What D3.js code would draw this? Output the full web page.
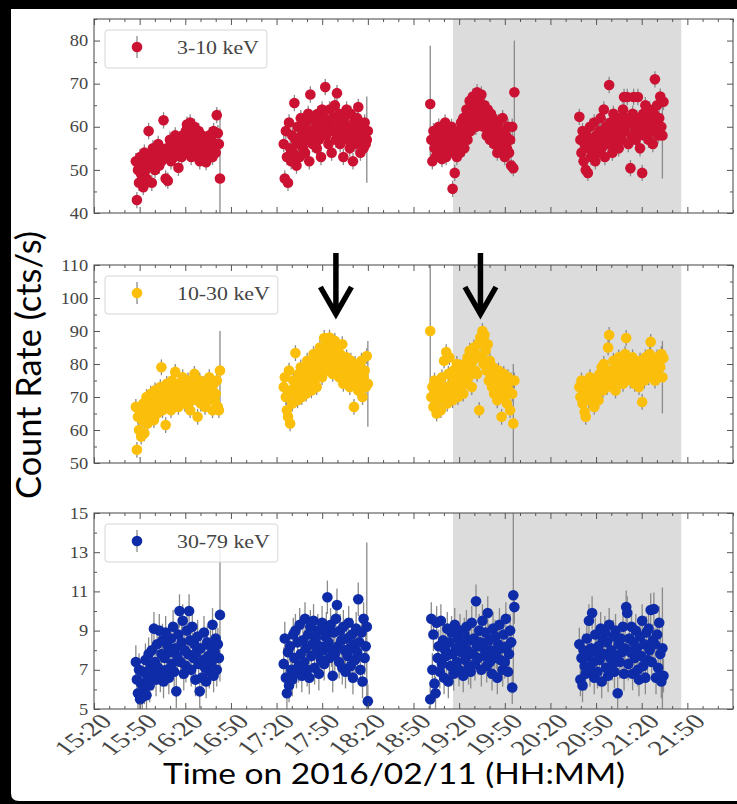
<!DOCTYPE html>
<html><head><meta charset="utf-8">
<script src="https://cdn.jsdelivr.net/npm/d3@7"></script>
<style>body{margin:0;background:#000}svg{display:block}</style>
</head><body>
<script>
// ---------- DATA ----------
const bands = ["3-10 keV", "10-30 keV", "30-79 keV"];
const bandColors = ["#cc1233", "#fbbf0b", "#0e2ca8"];
const yDomains = [[40, 85], [50, 110], [5, 15]];
const yMajorTicks = [[40, 50, 60, 70, 80], [50, 60, 70, 80, 90, 100, 110], [5, 7, 9, 11, 13, 15]];
const yMinorTicks = [[45, 55, 65, 75, 85], [55, 65, 75, 85, 95, 105], [6, 8, 10, 12, 14]];
const xDomain = ["15:20", "22:20"];
const xTickLabels = ["15:20", "15:50", "16:20", "16:50", "17:20", "17:50", "18:20", "18:50",
                     "19:20", "19:50", "20:20", "20:50", "21:20", "21:50"];
const shadeRange = ["19:16", "21:46"];
const arrowTimes = ["17:59", "19:34"];
const orbitStarts = ["15:47:30", "17:24:42", "19:01:00", "20:39:00"];
const binSeconds = 42;

const rate_3_10 = [
  [52, 43, 50, 47, 53, 49, 51, 46, 54, 50,
   48, 52, 59, 51, 53, 47, 55, 52, 50, 54,
   53, 56, 51, 55, 52, 54, 61.5, 53, 48, 55,
   47.5, 54, 57, 52, 56, 55, 53, 58, 54, 56,
   50.5, 57, 55, 53, 58, 56, 54, 59, 60.5, 55,
   57, 61, 53, 56, 58, 60, 55, 57, 54, 59,
   52, 56, 58, 53, 55, 57, 51.8, 56, 54, 58,
   55, 57, 53, 59, 56, 54, 62.7, 58.5, 56, 48],
  [56, 48, 59, 53, 47, 61, 55, 52, 58, 54,
   65.5, 57, 51, 60, 56, 53, 62, 58, 55, 59,
   54, 61, 57, 63, 52, 67.5, 59, 56, 62, 58,
   60, 55, 63, 57, 61, 53, 64, 59, 62, 69.2,
   58, 61, 56, 64, 60, 54, 62, 59, 65, 57,
   67.8, 60, 63, 56, 61, 58, 53, 62, 59, 64,
   57, 60, 55, 63, 58, 52, 61, 56, 59, 62,
   64.6, 57, 54, 60, 58, 55, 61, 56, 57, 59],
  [65.3, 57, 52, 59, 55, 53, 58, 56, 60, 54,
   57, 52.5, 59, 55, 61, 53, 57, 56, 54, 58,
   60, 45.6, 55, 49.3, 57, 53, 59, 56, 54, 61,
   58, 62, 55, 60, 64, 57, 61, 66, 59, 63,
   67, 62, 65, 60, 68, 64, 66, 61, 67.5, 63,
   60, 65, 62, 58, 64, 61, 57, 63, 59, 62,
   56, 60, 58, 54, 61, 57, 59, 55, 62, 57,
   53, 58, 55, 60, 54, 57, 51, 60, 50.4, 68],
  [62.3, 57, 54, 59, 52, 56, 50, 58, 49.3, 55,
   60, 53, 57, 55, 61, 52, 58, 56, 54, 59,
   62, 55, 57, 64, 53, 60, 58, 56, 69.7, 61,
   57, 54, 63, 59, 56, 61, 58, 55, 62, 60,
   57, 64, 66.9, 59, 62, 66.9, 56, 61, 50.4, 58,
   63, 66.9, 60, 57, 62, 66.9, 59, 55, 61, 49.3,
   63, 58, 65, 60, 62, 57, 64, 59, 61, 56,
   63, 71, 60, 65, 58, 62, 67, 60, 58, 65.8]
];
const rate_10_30 = [
  [67, 54, 64, 60, 66, 58, 63, 68, 59, 65,
   70, 62, 67, 64, 71, 66, 69, 63, 72, 68,
   65, 70, 67, 73, 79, 66, 71, 68, 61.5, 74,
   70, 68, 72, 66, 75, 70, 73, 77.6, 69, 72,
   67, 74, 71, 69, 76, 72, 68, 73, 70, 75,
   71, 66, 74, 69, 72, 77, 70, 73, 64, 71,
   75, 68, 72, 70, 74, 67, 71, 73, 69, 76,
   70, 72, 66, 74, 69, 71, 75, 67, 66, 78],
  [73, 76, 70, 66, 64, 78, 62, 72, 68, 75,
   71, 83.3, 74, 69, 77, 72, 79, 70, 75, 73,
   78, 71, 81, 76, 74, 80, 72, 77, 83, 75,
   79, 73, 82, 77, 85, 80, 76, 84, 87.9, 81,
   78, 86, 83, 88, 80, 85, 77, 82, 87, 79,
   84, 81, 76, 83, 79, 86, 74, 80, 77, 82,
   75, 79, 73, 81, 76, 78, 67, 80, 74, 77,
   72, 79, 75, 81, 70, 76, 78, 73, 82.4, 74],
  [90, 70, 73, 67, 75, 71, 65, 74, 69, 72,
   66, 76, 70, 81, 73, 83.6, 68, 77, 82, 71,
   74, 69, 78, 72, 76, 80, 70, 75, 79, 73,
   77, 71, 80, 74, 78, 82, 76, 84, 79, 73,
   81, 85, 78, 83, 77, 86, 66, 88, 82, 90,
   80, 88.8, 84, 78, 86, 75, 81, 77, 73, 79,
   71, 76, 74, 69, 78, 72, 75, 64, 73, 77,
   70, 74, 68, 76, 72, 66, 75, 71, 62, 75],
  [73, 70, 75, 68, 72, 65.5, 64, 71, 74, 69,
   76, 72, 70, 74, 67, 75, 71, 73, 69, 77,
   74, 79, 72, 80, 76, 78, 73, 85, 88.8, 75,
   78, 74, 81, 77, 72, 79, 76, 82, 75, 78,
   80, 74, 77, 83, 87.9, 79, 76, 81, 75, 78,
   82, 77, 74, 80, 76, 79, 73, 81, 77, 68.5,
   79, 75, 82, 78, 80, 76, 83, 86.7, 79, 77,
   81, 75, 78, 82, 76, 80, 79, 83, 76, 81.8]
];
const rate_30_79 = [
  [7.4, 6.5, 5.8, 7.0, 5.5, 6.3, 5.6, 6.9, 6.1, 7.5,
   5.7, 6.6, 7.8, 6.2, 7.2, 8.0, 6.8, 9.1, 7.4, 6.5,
   8.3, 7.1, 9.0, 6.7, 7.8, 8.5, 6.4, 7.6, 8.9, 7.0,
   8.2, 6.6, 7.9, 8.6, 7.3, 9.2, 6.9, 8.1, 5.9, 7.7,
   8.8, 10.0, 7.4, 8.4, 9.5, 6.8, 8.0, 7.2, 9.0, 7.8,
   10.0, 8.5, 7.0, 9.2, 7.6, 8.3, 6.5, 7.9, 8.7, 7.3,
   5.9, 8.1, 6.6, 7.5, 8.9, 7.1, 6.4, 8.4, 7.7, 6.9,
   8.2, 7.4, 9.3, 6.7, 7.9, 8.6, 7.0, 8.3, 7.6, 9.8],
  [7.3, 8.6, 6.6, 5.8, 7.9, 6.2, 8.2, 7.0, 6.5, 8.8,
   7.6, 9.0, 6.9, 8.4, 7.2, 9.3, 7.8, 6.7, 8.5, 7.4,
   9.6, 8.1, 7.0, 8.8, 6.6, 9.2, 7.7, 8.3, 9.5, 7.1,
   8.6, 7.9, 9.0, 6.8, 8.2, 7.5, 9.4, 8.0, 7.3, 8.7,
   9.1, 10.7, 8.4, 7.6, 9.3, 8.0, 6.7, 8.9, 7.8, 9.6,
   10.3, 8.2, 7.4, 9.0, 8.5, 7.1, 9.2, 8.0, 6.9, 8.6,
   7.7, 9.4, 8.1, 7.2, 8.8, 6.6, 8.3, 7.5, 9.1, 7.9,
   10.6, 8.4, 7.0, 8.9, 6.4, 9.6, 7.6, 8.2, 9.2, 5.4],
  [5.5, 9.6, 7.0, 8.8, 6.3, 5.8, 9.4, 7.6, 8.2, 6.9,
   9.5, 7.3, 8.5, 6.6, 8.0, 7.7, 9.1, 6.4, 8.4, 7.2,
   8.9, 7.8, 6.8, 9.3, 8.1, 7.4, 8.6, 7.0, 9.0, 7.9,
   8.3, 6.7, 8.8, 7.5, 9.2, 8.0, 7.1, 8.5, 6.9, 9.4,
   7.8, 8.6, 7.3, 10.5, 8.2, 7.6, 9.0, 8.4, 7.0, 9.5,
   8.1, 7.7, 8.9, 7.2, 9.9, 8.5, 7.4, 8.0, 6.8, 9.1,
   7.6, 8.7, 7.9, 6.6, 8.3, 9.3, 7.5, 8.1, 7.0, 8.8,
   7.4, 9.6, 8.2, 6.9, 7.8, 9.0, 8.4, 6.1, 10.8, 10.2],
  [8.3, 6.5, 7.6, 6.2, 8.0, 7.2, 6.8, 8.6, 7.7, 9.5,
   7.0, 8.1, 9.9, 7.4, 6.6, 8.8, 7.9, 6.9, 8.2, 7.5,
   9.1, 6.4, 8.5, 7.8, 8.9, 7.1, 8.4, 6.7, 9.3, 7.6,
   8.0, 7.3, 8.7, 6.9, 9.0, 7.7, 5.8, 8.3, 7.4, 8.6,
   7.9, 9.2, 6.8, 8.1, 10.2, 9.9, 7.3, 8.6, 7.9, 9.2,
   6.8, 8.4, 7.6, 9.0, 8.1, 7.0, 6.5, 8.7, 7.7, 9.5,
   7.2, 8.3, 6.6, 8.9, 7.5, 9.1, 8.0, 10.05, 7.4, 8.5,
   10.1, 8.3, 6.6, 8.8, 7.1, 9.4, 7.8, 6.4, 8.1, 6.7]
];
const typicalErr = [1.9, 2.4, 0.85];
// [orbit, bin, error] for the few bins with large error bars
const bigErr_3_10 = [[0, 79, 16], [1, 78, 10], [2, 0, 13.5], [2, 79, 12], [3, 78, 10]];
const bigErr_10_30 = [[0, 79, 12], [1, 79, 13], [2, 0, 20], [2, 78, 18], [3, 78, 11]];
const bigErr_30_79 = [[0, 79, 3.4], [1, 78, 4.3], [2, 78, 5], [3, 78, 3.1]];

const rates = [rate_3_10, rate_10_30, rate_30_79];
const bigErrs = [bigErr_3_10, bigErr_10_30, bigErr_30_79];

// ---------- LAYOUT ----------
const W = 737, H = 804;
const left = 94, right = 733;
const panelTop = [19, 265, 513], panelBottom = [213, 463, 709];
const SX = 1.15;
const serif = "'Liberation Serif', 'DejaVu Serif', serif";
const frameCol = "#555";

const parseT = d3.timeParse("%Y-%m-%d %H:%M:%S");
const T = s => parseT("2016-02-11 " + (s.length === 5 ? s + ":00" : s));

const svg = d3.select("body").append("svg").attr("width", W).attr("height", H);
const defs = svg.append("defs");

svg.append("rect").attr("width", W).attr("height", H).attr("fill", "#000");
svg.append("path")
  .attr("d", "M11,9 L737,9 L737,801 L19,801 Q11,801 11,793 Z")
  .attr("fill", "#fff");

const x = d3.scaleTime().domain(xDomain.map(T)).range([left, right]);
const xMajor = xTickLabels.map(T);
const xMinor = d3.timeMinute.every(10).range(T("15:20"), T("22:21"))
  .filter(d => !xMajor.some(m => +m === +d));

bands.forEach((band, b) => {
  const top = panelTop[b], bot = panelBottom[b];
  const y = d3.scaleLinear().domain(yDomains[b]).range([bot, top]);
  const g = svg.append("g");

  defs.append("clipPath").attr("id", "clip" + b).append("rect")
    .attr("x", left).attr("y", top).attr("width", right - left).attr("height", bot - top);

  g.append("rect")
    .attr("x", x(T(shadeRange[0]))).attr("y", top)
    .attr("width", x(T(shadeRange[1])) - x(T(shadeRange[0]))).attr("height", bot - top)
    .attr("fill", "#dcdcdc");

  const pts = [];
  rates[b].forEach((orbit, o) => {
    const t0 = T(orbitStarts[o]);
    orbit.forEach((v, i) => pts.push({ o, i, t: new Date(+t0 + i * binSeconds * 1000), v, e: typicalErr[b] }));
  });
  bigErrs[b].forEach(([o, i, e]) => { const p = pts.find(p => p.o === o && p.i === i); if (p) p.e = e; });

  const data = g.append("g").attr("clip-path", `url(#clip${b})`);
  data.selectAll("line.err").data(pts).join("line").attr("class", "err")
    .attr("x1", d => x(d.t)).attr("x2", d => x(d.t))
    .attr("y1", d => y(d.v - d.e)).attr("y2", d => y(d.v + d.e))
    .attr("stroke", "#8a8a8a").attr("stroke-width", 1.3);
  data.selectAll("circle").data(pts).join("circle")
    .attr("cx", d => x(d.t)).attr("cy", d => y(d.v)).attr("r", 5.3)
    .attr("fill", bandColors[b]);

  const styleAxis = sel => {
    sel.select(".domain").remove();
    sel.selectAll("line").attr("stroke", frameCol).attr("stroke-width", 1);
    sel.attr("font-family", serif).attr("font-size", 16);
  };
  const yl = g.append("g").attr("transform", `translate(${left},0)`)
    .call(d3.axisLeft(y).tickValues(yMajorTicks[b]).tickSize(-6).tickPadding(5).tickFormat(d3.format("d")));
  styleAxis(yl);
  yl.selectAll("text").attr("fill", "#444").attr("transform", `scale(${SX},1)`);
  g.append("g").attr("transform", `translate(${left},0)`)
    .call(d3.axisLeft(y).tickValues(yMinorTicks[b]).tickSize(-3).tickFormat("")).call(styleAxis);
  g.append("g").attr("transform", `translate(${right},0)`)
    .call(d3.axisRight(y).tickValues(yMajorTicks[b]).tickSize(-6).tickFormat("")).call(styleAxis);
  g.append("g").attr("transform", `translate(${right},0)`)
    .call(d3.axisRight(y).tickValues(yMinorTicks[b]).tickSize(-3).tickFormat("")).call(styleAxis);
  g.append("g").attr("transform", `translate(0,${top})`)
    .call(d3.axisTop(x).tickValues(xMajor).tickSize(-6).tickFormat("")).call(styleAxis);
  g.append("g").attr("transform", `translate(0,${top})`)
    .call(d3.axisTop(x).tickValues(xMinor).tickSize(-3).tickFormat("")).call(styleAxis);
  const xb = g.append("g").attr("transform", `translate(0,${bot})`)
    .call(d3.axisBottom(x).tickValues(xMajor).tickSize(-6)
      .tickFormat(b === 2 ? d3.timeFormat("%H:%M") : ""));
  styleAxis(xb);
  if (b === 2) {
    xb.selectAll("text")
      .attr("x", 0).attr("y", 0).attr("dy", "0.72em")
      .attr("text-anchor", "end").attr("fill", "#444").attr("font-size", 21)
      .attr("transform", `translate(4,3) scale(1.4,1) rotate(-45)`);
  }
  g.append("g").attr("transform", `translate(0,${bot})`)
    .call(d3.axisBottom(x).tickValues(xMinor).tickSize(-3).tickFormat("")).call(styleAxis);

  g.append("rect").attr("x", left).attr("y", top).attr("width", right - left).attr("height", bot - top)
    .attr("fill", "none").attr("stroke", frameCol).attr("stroke-width", 1.1);

  const lg = g.append("g").attr("transform", `translate(105,${top + 11})`);
  const box = lg.append("rect").attr("x", 0).attr("y", 0).attr("height", 38).attr("rx", 3)
    .attr("fill", "#fff").attr("fill-opacity", 0.85).attr("stroke", "#d6d6d6").attr("stroke-width", 1);
  lg.append("line").attr("x1", 32).attr("x2", 32).attr("y1", 6).attr("y2", 28)
    .attr("stroke", "#8a8a8a").attr("stroke-width", 1.3);
  lg.append("circle").attr("cx", 32).attr("cy", 17).attr("r", 5.3).attr("fill", bandColors[b]);
  const lt = lg.append("text").attr("transform", `translate(72,23.5) scale(${SX},1)`)
    .attr("font-family", serif).attr("font-size", 19).attr("fill", "#444").text(band);
  box.attr("width", 72 + lt.node().getComputedTextLength() * SX + 8);
});

arrowTimes.forEach(t => {
  const ax = x(T(t)), top = panelTop[1];
  svg.append("path")
    .attr("d", `M${ax},${top - 12} L${ax},${top + 48} M${ax - 15.5},${top + 22} L${ax},${top + 49} L${ax + 15.5},${top + 22}`)
    .attr("fill", "none").attr("stroke", "#000").attr("stroke-width", 5.5)
    .attr("stroke-linejoin", "miter").attr("stroke-linecap", "butt");
});

svg.append("text")
  .attr("transform", `translate(41,365) scale(${SX},1) rotate(-90)`)
  .attr("text-anchor", "middle").attr("font-family", "Lato, 'Open Sans', sans-serif")
  .attr("font-size", 30).attr("fill", "#000")
  .attr("textLength", 268).attr("lengthAdjust", "spacingAndGlyphs")
  .text("Count Rate (cts/s)");
svg.append("text")
  .attr("x", 163).attr("y", 784)
  .attr("font-family", "Lato, 'Open Sans', sans-serif").attr("font-size", 28).attr("fill", "#000")
  .attr("textLength", 462).attr("lengthAdjust", "spacingAndGlyphs")
  .text("Time on 2016/02/11 (HH:MM)");
</script>
</body></html>
